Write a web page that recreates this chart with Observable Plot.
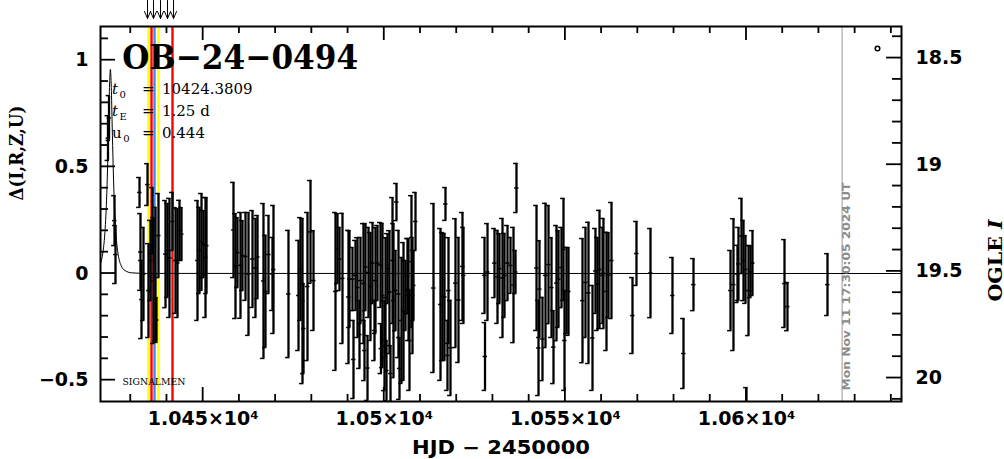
<!DOCTYPE html>
<html><head><meta charset="utf-8">
<script src="https://cdn.jsdelivr.net/npm/d3@7"></script>
<script src="https://cdn.jsdelivr.net/npm/@observablehq/plot@0.6"></script>
<style>html,body{margin:0;padding:0;background:#fff;}#chart svg{display:block;}</style>
</head><body><div id="chart"></div>
<script>
// ---------- data ----------
const eventName = "OB\u221224\u22120494";
const t0 = 10424.3809, tE = 1.25, u0 = 0.444;
const paramSymbols = ["t", "t", "u"];
const paramSubs = ["0", "E", "0"];
const paramValues = [t0.toFixed(4), tE.toFixed(2) + " d", u0.toFixed(3)];

const hjd = [10423.72,10424.00,10425.52,10425.79,
10432.42,10432.69,10432.97,10433.52,10434.63,10434.90,10435.45,10436.01,10436.28,10436.84,10437.11,10437.66,10439.60,10440.15,10440.70,10441.53,10442.36,10442.91,10443.46,10444.01,
10448.43,10448.98,10449.54,10450.09,10450.64,10450.92,
10458.37,10458.92,10459.47,10460.30,10460.85,10461.68,10462.51,10463.62,10464.44,10465.00,10466.65,10467.20,10468.03,10469.14,10469.41,
10473.55,10476.32,10476.87,10477.42,10477.70,10478.80,10479.63,10480.46,
10486.53,10487.08,10487.64,10488.46,10490.12,
10490.40,10491.22,10491.50,10492.05,10492.61,10493.43,10494.26,10494.54,10494.81,10495.37,10495.64,10496.75,10497.57,10498.13,10498.96,10499.09,10499.51,10500.34,10500.61,10500.89,10501.44,10501.72,10502.27,10502.54,10503.37,10503.92,10504.20,10504.75,10505.31,10506.41,10506.69,10507.51,10507.79,10508.62,10496.19,10503.10,10505.86,10506.96,10508.07,10493.16,10497.30,10500.06,
10513.59,10515.52,10516.07,10516.90,10516.62,10517.73,10519.66,10520.49,10521.59,10521.87,10518.28,10517.45,
10527.67,10527.81,10528.50,10530.43,10531.26,10531.81,10532.64,10533.19,10534.02,10534.85,10535.68,10536.23,10536.50,
10542.03,10542.58,10542.85,10543.68,10544.51,10545.34,10546.17,10546.72,10547.55,10548.10,10548.93,10549.48,10549.76,10550.31,10550.86,
10554.73,10555.55,10556.38,10557.49,10558.31,10558.87,10559.42,10560.25,10560.52,10561.35,10561.90,10562.73,
10568.53,10569.63,10573.50,10579.57,10582.61,10585.37,
10595.59,10596.41,10597.52,10597.79,10598.62,10599.18,10599.73,10600.56,10601.11,10601.66,10600.00,
10610.50,10611.32,10622.37];
const delta = [0.635,0.729,0.248,0.089,
0.380,0.101,-0.122,-0.002,0.417,-0.080,0.061,0.248,-0.033,-0.002,-0.218,0.178,0.091,0.108,0.073,0.244,0.061,0.049,0.202,0.185,
0.061,0.108,0.148,0.138,0.075,0.131,
0.204,0.035,0.098,0.038,0.084,0.080,-0.002,0.068,0.026,0.077,-0.035,-0.084,0.089,-0.002,0.019,
-0.096,-0.103,0.021,-0.129,-0.258,-0.061,0.195,-0.033,
-0.084,0.117,0.068,-0.023,-0.110,
-0.026,-0.026,-0.403,-0.009,-0.066,-0.033,-0.047,-0.361,0.030,-0.443,0.005,0.049,-0.033,0.049,0.040,-0.352,-0.103,-0.113,-0.455,0.023,-0.087,-0.469,0.061,-0.127,0.335,-0.096,-0.445,-0.220,-0.178,-0.012,-0.075,0.056,-0.103,0.244,-0.061,-0.080,-0.103,-0.314,-0.056,-0.286,-0.267,-0.338,
-0.068,-0.145,-0.108,0.326,-0.110,-0.080,-0.045,-0.124,0.033,-0.009,-0.349,-0.384,
-0.009,-0.389,0.007,0.049,-0.016,0.023,-0.021,-0.009,0.049,0.038,-0.054,0.007,0.401,
0.026,-0.349,-0.073,-0.307,-0.009,0.042,-0.066,-0.345,-0.045,-0.026,0.028,0.113,-0.314,-0.080,-0.084,
-0.127,-0.042,-0.091,-0.302,0.012,-0.049,0.019,-0.009,0.000,-0.084,-0.007,0.061,
-0.197,0.094,0.002,-0.103,-0.375,-0.052,
-0.080,-0.052,-0.002,0.045,0.176,0.061,0.019,-0.080,0.009,0.049,-0.666,
-0.047,-0.155,-0.052];
const err = [0.105,0.105,0.117,0.136,
0.070,0.180,0.183,0.218,0.098,0.220,0.188,0.155,0.295,0.312,0.105,0.197,0.251,0.220,0.279,0.136,0.248,0.255,0.141,0.124,
0.281,0.202,0.227,0.157,0.281,0.225,
0.223,0.246,0.164,0.248,0.164,0.206,0.288,0.227,0.232,0.195,0.363,0.263,0.183,0.171,0.300,
0.298,0.258,0.241,0.387,0.211,0.347,0.241,0.234,
0.370,0.164,0.148,0.305,0.312,
0.227,0.148,0.183,0.164,0.234,0.202,0.281,0.141,0.204,0.152,0.211,0.190,0.248,0.176,0.199,0.117,0.338,0.281,0.141,0.164,0.288,0.131,0.295,0.361,0.087,0.298,0.145,0.295,0.323,0.176,0.239,0.309,0.272,0.136,0.253,0.188,0.164,0.234,0.164,0.159,0.141,0.211,
0.396,0.356,0.300,0.077,0.298,0.248,0.302,0.293,0.253,0.225,0.223,0.164,
0.178,0.159,0.227,0.162,0.218,0.164,0.279,0.197,0.176,0.131,0.270,0.101,0.115,
0.293,0.223,0.227,0.195,0.338,0.277,0.234,0.171,0.270,0.227,0.188,0.239,0.234,0.202,0.206,
0.291,0.258,0.331,0.246,0.199,0.218,0.277,0.225,0.258,0.277,0.199,0.272,
0.178,0.150,0.209,0.178,0.164,0.122,
0.188,0.309,0.134,0.171,0.176,0.188,0.159,0.211,0.122,0.152,0.131,
0.206,0.113,0.145];

// point-lens model curve (values listed for the fitted t0, tE, u0)
const modelHJD = [10414.38,10418.38,10420.38,10421.38,10421.88,10422.38,10422.88,10423.13,10423.38,10423.63,10423.88,10424.13,10424.38,10424.63,10424.88,10425.13,10425.38,10425.63,10425.88,10426.38,10426.88,10427.38,10428.38,10430.38,10434.38,10650.00];
const modelDelta = [0.0005,0.003,0.014,0.036,0.060,0.106,0.196,0.270,0.373,0.514,0.691,0.872,0.957,0.872,0.691,0.514,0.373,0.270,0.196,0.106,0.060,0.036,0.014,0.003,0.0005,0];

// marker lines and arrows
const lineHJD = [10434.90,10435.73,10436.56,10437.66,10441.53];
const lineColor = ["#ffff00","#ff0000","#3d8bea","#ffff00","#ff0000"];
const arrowHJD = [10434.63,10436.28,10438.22,10440.15,10441.81];
const nowHJD = 10626.4;
const nowLabel = "Mon Nov 11 17:30:05 2024 UT";

// axes
const xDomain = [10421.65, 10642.8];
const yDomain = [-0.600, 1.158];
const xMajor = [10450, 10500, 10550, 10600];
const xMinor = d3.range(10430, 10641, 10).filter(d => !xMajor.includes(d));
const xMajorLabels = ["1.045\u00d710\u2074","1.05\u00d710\u2074","1.055\u00d710\u2074","1.06\u00d710\u2074"];
const yMajor = [-0.5, 0, 0.5, 1];
const yMinor = d3.range(-5, 12).map(k => k / 10).filter(d => !yMajor.includes(d));
const yMajorLabels = ["\u22120.5","0","0.5","1"];
const baseMag = 19.51;
const magMajor = [18.5, 19, 19.5, 20];
const magMinor = d3.range(184, 202).map(k => k / 10).filter(d => !magMajor.includes(d));
const magLabels = ["18.5","19","19.5","20"];

// ---------- layout ----------
const W = 1004, H = 459, mL = 100, mR = 103, mT = 26, mB = 58;

// ---------- build ----------
const points = hjd.map((t, i) => ({t, d: delta[i], e: err[i]}));
const lines = lineHJD.map((t, i) => ({t, c: lineColor[i]}));
const model = modelHJD.map((t, i) => ({t, d: modelDelta[i]}));

const capSym = {draw(ctx){ ctx.moveTo(-3.4, 0); ctx.lineTo(1, 0); }};
const midSym = {draw(ctx){ ctx.moveTo(-2.4, 0); ctx.lineTo(2, 0); }};
const arrowShape = {draw(ctx, l){ ctx.moveTo(0, 0); ctx.lineTo(0, -l); ctx.moveTo(-3, -l + 7); ctx.lineTo(0, -l); ctx.lineTo(3, -l + 7); }};

const SANS = "DejaVu Sans", SERIF = "DejaVu Serif";

const plot = Plot.plot({
  width: W, height: H,
  marginLeft: mL, marginRight: mR, marginTop: mT, marginBottom: mB,
  x: {domain: xDomain, axis: null},
  y: {domain: yDomain, axis: null},
  color: {type: "identity"},
  style: {background: "white", overflow: "visible", fontFamily: SANS},
  marks: [
    Plot.ruleX(lines, {x: "t", stroke: "c", strokeWidth: 2.4}),
    Plot.ruleX([nowHJD], {x: d => d, stroke: "#999999", strokeWidth: 1}),
    Plot.line(model, {x: "t", y: "d", stroke: "black", strokeWidth: 1, curve: "monotone-x", clip: true}),
    Plot.ruleX(points, {x: "t", y1: d => d.d - d.e, y2: d => d.d + d.e, stroke: "black", strokeWidth: 2.3, clip: true}),
    Plot.dot(points, {x: "t", y: d => d.d + d.e, symbol: capSym, r: 3, fill: "none", stroke: "black", strokeWidth: 1.5, clip: true}),
    Plot.dot(points, {x: "t", y: d => d.d - d.e, symbol: capSym, r: 3, fill: "none", stroke: "black", strokeWidth: 1.5, clip: true}),
    Plot.dot(points, {x: "t", y: "d", symbol: midSym, r: 3, fill: "none", stroke: "black", strokeWidth: 1.5, clip: true}),
    Plot.frame({stroke: "black", strokeWidth: 2}),
    // arrows above the frame
    Plot.vector(arrowHJD, {x: d => d, frameAnchor: "top", dy: -26, rotate: 180, length: 18, anchor: "start", shape: arrowShape, stroke: "black", strokeWidth: 1}),
    // tick labels
    Plot.text(xMajor, {x: d => d, frameAnchor: "bottom", dy: 23, lineAnchor: "bottom", text: (d, i) => xMajorLabels[i], fontSize: 19, fontWeight: "bold", fontFamily: SANS}),
    Plot.text(yMajor, {y: d => d, frameAnchor: "left", dx: -12, textAnchor: "end", lineAnchor: "middle", text: (d, i) => yMajorLabels[i], fontSize: 19, fontWeight: "bold", fontFamily: SANS}),
    Plot.text(magMajor, {y: d => baseMag - d, frameAnchor: "right", dx: 14, textAnchor: "start", lineAnchor: "middle", text: (d, i) => magLabels[i], fontSize: 19, fontWeight: "bold", fontFamily: SANS}),
    // axis titles
    Plot.text(["HJD \u2212 2450000"], {frameAnchor: "bottom", dy: 46, lineAnchor: "middle", text: d => d, fontSize: 19, fontWeight: "bold", fontFamily: SANS}),
    Plot.text(["\u0394(I,R,Z,U)"], {frameAnchor: "left", dx: -83.5, dy: -13.5, rotate: -90, lineAnchor: "middle", text: d => d, fontSize: 19, fontWeight: "bold", fontFamily: SERIF}),
    Plot.text(["OGLE I"], {frameAnchor: "right", dx: 94, dy: 5.5, rotate: -90, lineAnchor: "middle", text: d => d, fontSize: 19, fontWeight: "bold", fontFamily: SERIF}),
    // annotations
    Plot.text([eventName], {frameAnchor: "top-left", dx: 21.7, dy: 42, textAnchor: "start", lineAnchor: "bottom", text: d => d, fontSize: 34, fontWeight: "bold", fontFamily: SERIF}),
    Plot.text(["SIGNALMEN"], {frameAnchor: "bottom-left", dx: 22, dy: -17, textAnchor: "start", lineAnchor: "bottom", text: d => d, fontSize: 10, fontFamily: SERIF}),
    Plot.text([nowLabel], {x: d => nowHJD, frameAnchor: "bottom", dx: 8.3, dy: -11, rotate: -90, textAnchor: "start", lineAnchor: "bottom", text: d => d, fontSize: 10.5, fontWeight: "bold", fill: "#8c8c8c", fontFamily: SANS}),
    Plot.dot([0], {frameAnchor: "top-right", dx: -24, dy: 22, r: 2.3, fill: "none", stroke: "black", strokeWidth: 1.5})
  ]
});

document.getElementById("chart").appendChild(plot);

// ---------- inward tick marks, placed through Plot's own scales ----------
const sx = plot.scale("x"), sy = plot.scale("y");
const xB = H - mB, xT = mT, yL = mL, yR = W - mR;
const tg = d3.select(plot).append("g").attr("stroke", "black").attr("stroke-width", 1.8).attr("fill", "none");
function hair(x1, y1, x2, y2) { tg.append("line").attr("x1", x1).attr("y1", y1).attr("x2", x2).attr("y2", y2); }
xMinor.forEach(v => { const X = sx.apply(v); hair(X, xB, X, xB - 7); hair(X, xT, X, xT + 7); });
xMajor.forEach(v => { const X = sx.apply(v); hair(X, xB, X, xB - 14); hair(X, xT, X, xT + 14); });
yMinor.forEach(v => { const Y = sy.apply(v); hair(yL, Y, yL + 8, Y); });
yMajor.forEach(v => { const Y = sy.apply(v); hair(yL, Y, yL + 15, Y); });
magMinor.forEach(m => { const Y = sy.apply(baseMag - m); hair(yR, Y, yR - 9, Y); });
magMajor.forEach(m => { const Y = sy.apply(baseMag - m); hair(yR, Y, yR - 15, Y); });

// ---------- text refinements ----------
const lengths = {};
lengths[eventName] = 236;
lengths["HJD \u2212 2450000"] = 178;
lengths["\u0394(I,R,Z,U)"] = 95;
lengths["SIGNALMEN"] = 63;
lengths[nowLabel] = 208;
d3.select(plot).selectAll("text").each(function() {
  const s = this.textContent;
  if (lengths[s]) {
    this.setAttribute("textLength", lengths[s]);
    this.setAttribute("lengthAdjust", "spacingAndGlyphs");
  }
  if (s === "OGLE I") {
    const el = d3.select(this);
    el.text("");
    el.append("tspan").text("OGLE ");
    el.append("tspan").attr("font-style", "italic").text("I");
    this.setAttribute("textLength", 82);
    this.setAttribute("lengthAdjust", "spacingAndGlyphs");
  }
});

// fit parameters, drawn as rich text in the plot's SVG
const pg = d3.select(plot).append("g")
  .attr("font-family", SERIF).attr("font-size", 15).attr("fill", "black")
  .attr("text-anchor", "start");
const paramBaseline = [94, 116, 138];
paramSymbols.forEach((sym, i) => {
  const t = pg.append("text").attr("y", paramBaseline[i]).attr("text-anchor", "start");
  t.append("tspan").attr("x", 112).attr("font-style", sym === "t" ? "italic" : "normal").text(sym);
  t.append("tspan").attr("dx", 1.5).attr("dy", 4).attr("font-size", 10).text(paramSubs[i]);
  t.append("tspan").attr("x", 142).attr("dy", -4).text("=");
  t.append("tspan").attr("x", 162).text(paramValues[i]);
});
</script>
</body></html>
